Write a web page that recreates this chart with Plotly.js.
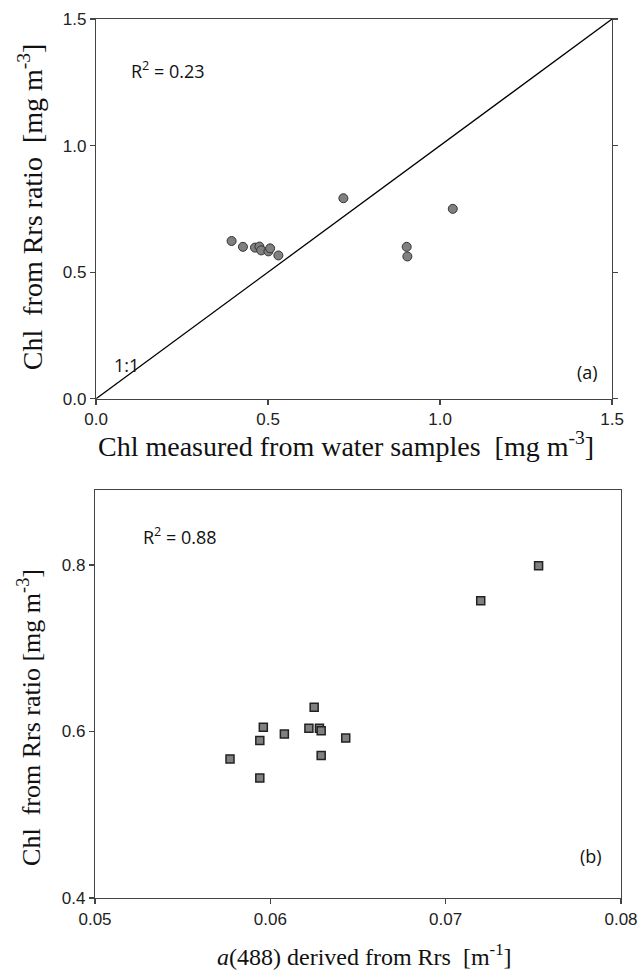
<!DOCTYPE html>
<html>
<head>
<meta charset="utf-8">
<script src="https://cdn.plot.ly/plotly-3.0.1.min.js"></script>
<style>html,body{margin:0;padding:0;background:#fff;}#chart{width:639px;height:977px;}</style>
</head>
<body>
<div id="chart"></div>
<script>
// Panel (a): measured Chl vs Chl from Rrs ratio
const chlMeasured = [0.394, 0.427, 0.462, 0.475, 0.480, 0.501, 0.506, 0.530, 0.719, 1.037, 0.903, 0.905];
const chlRatioA   = [0.623, 0.600, 0.597, 0.601, 0.586, 0.582, 0.594, 0.566, 0.792, 0.750, 0.600, 0.562];
const oneToOne = [0, 1.5];

// Panel (b): a(488) derived from Rrs vs Chl from Rrs ratio
const a488      = [0.0596, 0.0608, 0.0594, 0.0622, 0.0628, 0.0629, 0.0643, 0.0577, 0.0629, 0.0594, 0.0753, 0.0720, 0.0625];
const chlRatioB = [0.605, 0.597, 0.589, 0.604, 0.604, 0.601, 0.592, 0.567, 0.571, 0.544, 0.799, 0.757, 0.629];

const ticksA = [0, 0.5, 1.0, 1.5];
const ticksBx = [0.05, 0.06, 0.07, 0.08];
const ticksBy = [0.4, 0.6, 0.8];

const axisLine = '#444';
const tickFont = {family: 'Liberation Sans, Arial, sans-serif', size: 17, color: '#222'};
const serif = 'Liberation Serif, Times New Roman, serif';
const annFont = {family: 'Open Sans, Liberation Sans, sans-serif', size: 18, color: '#111'};

const traces = [
  {x: oneToOne, y: oneToOne, mode: 'lines', line: {color: '#000', width: 1.3}, xaxis: 'x', yaxis: 'y', hoverinfo: 'skip'},
  {x: chlMeasured, y: chlRatioA, mode: 'markers', xaxis: 'x', yaxis: 'y',
   marker: {symbol: 'circle', size: 9, color: '#808080', line: {color: '#333', width: 1}}},
  {x: a488, y: chlRatioB, mode: 'markers', xaxis: 'x2', yaxis: 'y2',
   marker: {symbol: 'square', size: 8, color: '#808080', line: {color: '#222', width: 1.5}}}
];

const baseAxis = {
  showgrid: false, zeroline: false, showline: true, linecolor: axisLine, linewidth: 1.2,
  ticks: 'outside', ticklen: 5, tickwidth: 1.2, tickcolor: axisLine, tickfont: tickFont
};

const layout = {
  width: 639, height: 977,
  margin: {l: 95, r: 18, t: 19, b: 79},
  paper_bgcolor: '#fff', plot_bgcolor: '#fff',
  showlegend: false,
  xaxis: Object.assign({}, baseAxis, {
    domain: [0.002, 0.983], range: [0, 1.5], tickvals: ticksA, tickformat: '.1f', mirror: true, anchor: 'y'
  }),
  yaxis: Object.assign({}, baseAxis, {
    domain: [0.568, 1], range: [0, 1.5], tickvals: ticksA, tickformat: '.1f', mirror: 'ticks', anchor: 'x'
  }),
  xaxis2: Object.assign({}, baseAxis, {
    domain: [0, 1], range: [0.05, 0.08], tickvals: ticksBx, tickformat: '.2f', mirror: true, anchor: 'y2'
  }),
  yaxis2: Object.assign({}, baseAxis, {
    domain: [0, 0.4642], range: [0.4, 0.89], tickvals: ticksBy, tickformat: '.1f', mirror: true, anchor: 'x2'
  }),
  annotations: [
    // axis titles
    {xref: 'paper', yref: 'paper', x: 0.477, y: 0.5155, text: 'Chl measured from water samples  [mg m<sup>-3</sup>]',
     showarrow: false, xanchor: 'center', yanchor: 'middle', font: {family: serif, size: 28, color: '#111'}},
    {xref: 'paper', yref: 'paper', x: -0.1236, y: 0.787, text: 'Chl  from Rrs ratio  [mg m<sup>-3</sup>]', textangle: -90,
     showarrow: false, xanchor: 'center', yanchor: 'middle', font: {family: serif, size: 28, color: '#111'}},
    {xref: 'paper', yref: 'paper', x: 0.513, y: -0.0648, text: '<i>a</i>(488) derived from Rrs  [m<sup>-1</sup>]',
     showarrow: false, xanchor: 'center', yanchor: 'middle', font: {family: serif, size: 24, color: '#111'}},
    {xref: 'paper', yref: 'paper', x: -0.1236, y: 0.206, text: 'Chl  from Rrs ratio [mg m<sup>-3</sup>]', textangle: -90,
     showarrow: false, xanchor: 'center', yanchor: 'middle', font: {family: serif, size: 26, color: '#111'}},
    // in-plot labels
    {xref: 'x', yref: 'y', x: 0.095, y: 1.30, text: 'R<sup>2</sup> = 0.23', showarrow: false, xanchor: 'left', font: annFont},
    {xref: 'x', yref: 'y', x: 0.045, y: 0.135, text: '1:1', showarrow: false, xanchor: 'left', font: annFont},
    {xref: 'x', yref: 'y', x: 1.43, y: 0.105, text: '(a)', showarrow: false, xanchor: 'center', font: annFont},
    {xref: 'x2', yref: 'y2', x: 0.0526, y: 0.835, text: 'R<sup>2</sup> = 0.88', showarrow: false, xanchor: 'left', font: annFont},
    {xref: 'x2', yref: 'y2', x: 0.0783, y: 0.451, text: '(b)', showarrow: false, xanchor: 'center', font: annFont}
  ]
};

Plotly.newPlot('chart', traces, layout, {displayModeBar: false, staticPlot: true});
</script>
</body>
</html>
